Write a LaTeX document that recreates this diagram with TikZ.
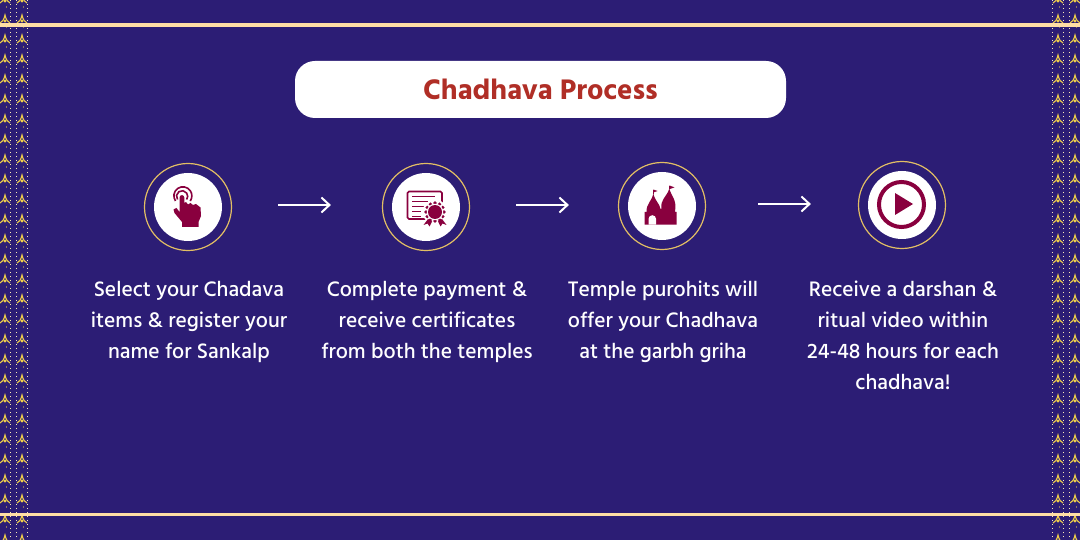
\documentclass[tikz,border=0pt]{standalone}
\usepackage{fontspec}
\setmainfont{Hind Madurai Medium}
\usetikzlibrary{arrows.meta}
\definecolor{bgpurple}{RGB}{44,29,117}
\definecolor{railpeach}{RGB}{255,222,165}
\definecolor{ringgold}{RGB}{226,190,100}
\definecolor{braidgold}{RGB}{238,205,75}
\definecolor{iconred}{RGB}{137,0,62}
\definecolor{titlered}{RGB}{176,46,38}
\tikzset{
  ringnode/.style={circle,draw=ringgold,line width=1.2pt,minimum size=87pt,inner sep=0pt},
  disknode/.style={circle,fill=white,minimum size=68pt,inner sep=0pt},
  capnode/.style={text=white,align=center,font=\fontsize{21.5}{31}\selectfont,inner sep=0pt,anchor=north},
  flowarrow/.style={white,line width=2pt,-{Straight Barb[length=8pt,width=15pt,line width=2pt]}},
}
\begin{document}
\begin{tikzpicture}[x=1pt,y=-1pt]
  \useasboundingbox (0,0) rectangle (1080,540);
  \fill[bgpurple](0,0) rectangle (1080,540);
  % side braids
  \foreach \col in {5,22,1058,1075}{
    \foreach \row in {-2,18,...,538}{
      \draw[braidgold,line width=1.1pt](\col-5,\row+5) .. controls (\col-3,\row+4) and (\col-1,\row+2) .. (\col,\row-3)
        .. controls (\col+1,\row+2) and (\col+3,\row+4) .. (\col+5,\row+5);
      \fill[braidgold](\col,\row+3) circle [radius=1.6pt];
      \fill[braidgold](\col+1.5,\row+9) circle [radius=.7pt];
    }
    \draw[white!60!braidgold,line width=.7pt,dash pattern=on 1pt off 3pt](\col-5.5,0) -- (\col-5.5,540);
    \draw[white!60!braidgold,line width=.7pt,dash pattern=on 1pt off 3pt](\col+5.5,0) -- (\col+5.5,540);
  }
  \fill[railpeach](0,23.5) rectangle (1080,27);
  \fill[railpeach](0,512.5) rectangle (1080,516);
  % title
  \node[fill=white,rounded corners=20pt,minimum width=491pt,minimum height=57pt,inner sep=0pt,
    text=titlered,font=\fontsize{29}{32}\selectfont\bfseries] (title) at (540.5,89.5) {Chadhava Process};
  % steps
  \node[ringnode] (ring1) at (188,207) {};
  \node[ringnode] (ring2) at (426,207) {};
  \node[ringnode] (ring3) at (662,206) {};
  \node[ringnode] (ring4) at (902,205) {};
  \node[disknode] (disk1) at (ring1) {};
  \node[disknode] (disk2) at (ring2) {};
  \node[disknode] (disk3) at (ring3) {};
  \node[disknode] (disk4) at (ring4) {};
  \draw[flowarrow,shorten <=46pt,shorten >=51pt]([yshift=2pt]ring1.east) -- ([yshift=2pt]ring2.west);
  \draw[flowarrow,shorten <=46pt,shorten >=49pt]([yshift=2pt]ring2.east) -- ([yshift=1pt]ring3.west);
  \draw[flowarrow,shorten <=52pt,shorten >=47pt]([yshift=2pt]ring3.east) -- ([yshift=1pt]ring4.west);
  % hand
  \begin{scope}[iconred]
    \draw[line width=1.6pt](175.5,201) arc [start angle=215,end angle=-35,radius=9pt];
    \draw[line width=1.6pt](177.5,199.5) arc [start angle=215,end angle=-35,radius=5.6pt];
    \fill(179.5,197.5) arc [start angle=180,end angle=0,radius=2.4pt] -- (184.3,203)
      -- (186,202) -- (188,204.5) -- (190.5,203) -- (193,205) -- (196,204) -- (200.5,207.5)
      -- (201,216) -- (198.5,222) -- (198.5,227) -- (182,227) -- (182,222) -- (174.5,213)
      -- (173.5,209.5) -- (176.5,208) -- (179.5,212) -- cycle;
  \end{scope}
  % certificate
  \begin{scope}[iconred]
    \draw[line width=1.7pt,rounded corners=1.5pt](407.5,191.5) rectangle (442,219);
    \foreach \ly/\lx in {196.5/435,201.5/428,206.5/424,211.5/421,216.5/421}
      \draw[line width=1.6pt](412,\ly) -- (\lx,\ly);
    \fill[white](435,212) circle [radius=12.5pt];
    \foreach \ang in {0,30,...,330}
      \fill(435,212) ++(\ang:9pt) circle [radius=1.9pt];
    \fill[white](435,212) circle [radius=8.2pt];
    \fill(435,212) circle [radius=7pt];
    \fill(428,219) -- (432,221.5) -- (429.5,226.5) -- (427.5,223.5) -- (423.5,225) -- cycle;
    \fill(442,219) -- (438,221.5) -- (440.5,226.5) -- (442.5,223.5) -- (446.5,225) -- cycle;
  \end{scope}
  % temple
  \begin{scope}[iconred]
    \fill(644.7,224.7) -- (644.7,212) -- (646.5,212) .. controls (646,204) and (652,201) .. (653.3,193.5)
      .. controls (655,201) and (660,204) .. (660.5,209) -- (661.5,209)
      .. controls (660,199) and (667,197) .. (669.3,188.5) .. controls (671.5,197) and (677,199) .. (675,212)
      -- (676.5,212) -- (676.5,224.7) -- cycle;
    \fill[white](648.5,224.7) -- (648.5,219) arc [start angle=180,end angle=0,radius=3.8pt] -- (656.1,224.7) -- cycle;
    \draw[line width=1pt](653.3,194) -- (653.3,190);
    \fill(653.3,189.5) -- (657.5,191) -- (653.3,192.5) -- cycle;
    \draw[line width=1pt](669.3,189) -- (669.3,186);
    \fill(669.3,185.5) -- (674.5,187.3) -- (669.3,189.3) -- cycle;
  \end{scope}
  % play
  \draw[iconred,line width=4pt](901.5,204.5) circle [radius=22.5pt];
  \fill[iconred](895,193) -- (913,204) -- (895,215) -- cycle;
  % captions
  \node[capnode] (cap1) at (189,281) {Select your Chadava\\items \& register your\\name for Sankalp};
  \node[capnode] (cap2) at (427,281) {Complete payment \&\\receive certificates\\from both the temples};
  \node[capnode] (cap3) at (663,281) {Temple purohits will\\offer your Chadhava\\at the garbh griha};
  \node[capnode] (cap4) at (903,281) {Receive a darshan \&\\ritual video within\\24-48 hours for each\\chadhava!};
\end{tikzpicture}
\end{document}
